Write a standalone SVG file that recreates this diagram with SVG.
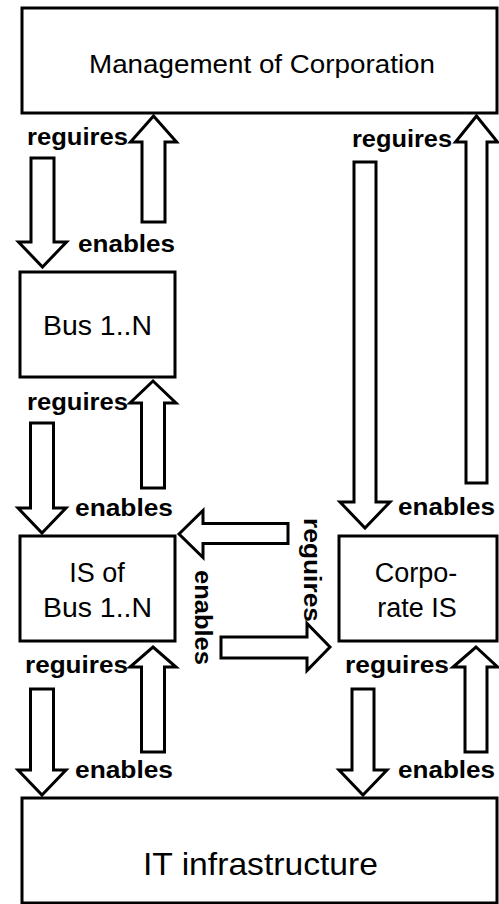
<svg xmlns="http://www.w3.org/2000/svg" width="499" height="904" viewBox="0 0 499 904">
  <style>
    .box { fill: #ffffff; stroke: #000000; stroke-width: 3; }
    .arrow { fill: #ffffff; stroke: #000000; stroke-width: 3; stroke-linejoin: miter; }
    .title { font-family: "Liberation Sans", Arial, sans-serif; fill: #000000; text-anchor: middle; }
    .lbl { font-family: "Liberation Sans", Arial, sans-serif; font-weight: bold; font-size: 23px; fill: #000000; }
  </style>
  <rect width="499" height="904" fill="#ffffff"/>

  <!-- nodes -->
  <g id="management">
    <rect class="box" x="22" y="8" width="475" height="105"/>
    <text class="title" x="262" y="73" font-size="26" textLength="346" lengthAdjust="spacingAndGlyphs">Management of Corporation</text>
  </g>
  <g id="bus">
    <rect class="box" x="20" y="272" width="155" height="105"/>
    <text class="title" x="97.5" y="335" font-size="27" textLength="109" lengthAdjust="spacingAndGlyphs">Bus 1..N</text>
  </g>
  <g id="is-bus">
    <rect class="box" x="20" y="536" width="155" height="105"/>
    <text class="title" x="97" y="582" font-size="27">IS of</text>
    <text class="title" x="97.5" y="617" font-size="27" textLength="109" lengthAdjust="spacingAndGlyphs">Bus 1..N</text>
  </g>
  <g id="corporate-is">
    <rect class="box" x="339" y="536" width="158" height="105"/>
    <text class="title" x="416" y="582" font-size="27">Corpo-</text>
    <text class="title" x="417" y="617" font-size="27">rate IS</text>
  </g>
  <g id="it-infrastructure">
    <rect class="box" x="22" y="798" width="475" height="105"/>
    <text class="title" x="260.5" y="875" font-size="32" textLength="235" lengthAdjust="spacingAndGlyphs">IT infrastructure</text>
  </g>

  <!-- connectors: block arrows -->
  <g id="connectors">
    <!-- management <-> bus -->
    <polygon class="arrow" points="153.5,116 176.5,142 165,142 165,222 142,222 142,142 130.5,142"/>
    <polygon class="arrow" points="42.5,267 66.5,242 54,242 54,158 31,158 31,242 18.5,242"/>
    <!-- bus <-> IS of bus -->
    <polygon class="arrow" points="153,381 176,403 164.5,403 164.5,488 141.5,488 141.5,403 130,403"/>
    <polygon class="arrow" points="42,533 66,508 53.5,508 53.5,423 30.5,423 30.5,508 18,508"/>
    <!-- IS of bus <-> IT infrastructure -->
    <polygon class="arrow" points="153,647 176,667 164.5,667 164.5,752 141.5,752 141.5,667 130,667"/>
    <polygon class="arrow" points="42,795 66,770 53.5,770 53.5,689 30.5,689 30.5,770 18,770"/>
    <!-- management <-> corporate IS -->
    <polygon class="arrow" points="476.5,116 497.5,142 487,142 487,483 466,483 466,142 455.5,142"/>
    <polygon class="arrow" points="365,528 390,502 376,502 376,162 354,162 354,502 340,502"/>
    <!-- corporate IS <-> IT infrastructure -->
    <polygon class="arrow" points="476,647 497.5,667 487,667 487,752 465,752 465,667 453,667"/>
    <polygon class="arrow" points="363,795 387,770 374,770 374,689 352,689 352,770 339,770"/>
    <!-- IS of bus <-> corporate IS -->
    <polygon class="arrow" points="179,534 203,510.5 203,523.5 288,523.5 288,543.5 203,543.5 203,557.5"/>
    <polygon class="arrow" points="330,647 307,623.5 307,637 221,637 221,658 307,658 307,670.5"/>
  </g>

  <!-- connector labels -->
  <g id="labels">
    <text class="lbl" x="27" y="145" textLength="101" lengthAdjust="spacingAndGlyphs">reguires</text>
    <text class="lbl" x="78" y="252" textLength="97" lengthAdjust="spacingAndGlyphs">enables</text>
    <text class="lbl" x="27" y="410" textLength="101" lengthAdjust="spacingAndGlyphs">reguires</text>
    <text class="lbl" x="75" y="516" textLength="98" lengthAdjust="spacingAndGlyphs">enables</text>
    <text class="lbl" x="25" y="673" textLength="103" lengthAdjust="spacingAndGlyphs">reguires</text>
    <text class="lbl" x="75" y="778" textLength="98" lengthAdjust="spacingAndGlyphs">enables</text>
    <text class="lbl" x="352" y="147" textLength="100" lengthAdjust="spacingAndGlyphs">reguires</text>
    <text class="lbl" x="398" y="515" textLength="97" lengthAdjust="spacingAndGlyphs">enables</text>
    <text class="lbl" x="345" y="673" textLength="104" lengthAdjust="spacingAndGlyphs">reguires</text>
    <text class="lbl" x="398" y="778" textLength="97" lengthAdjust="spacingAndGlyphs">enables</text>
    <text class="lbl" transform="translate(304,518) rotate(90)" textLength="104" lengthAdjust="spacingAndGlyphs">reguires</text>
    <text class="lbl" transform="translate(195,570) rotate(90)" textLength="95" lengthAdjust="spacingAndGlyphs">enables</text>
  </g>
</svg>
